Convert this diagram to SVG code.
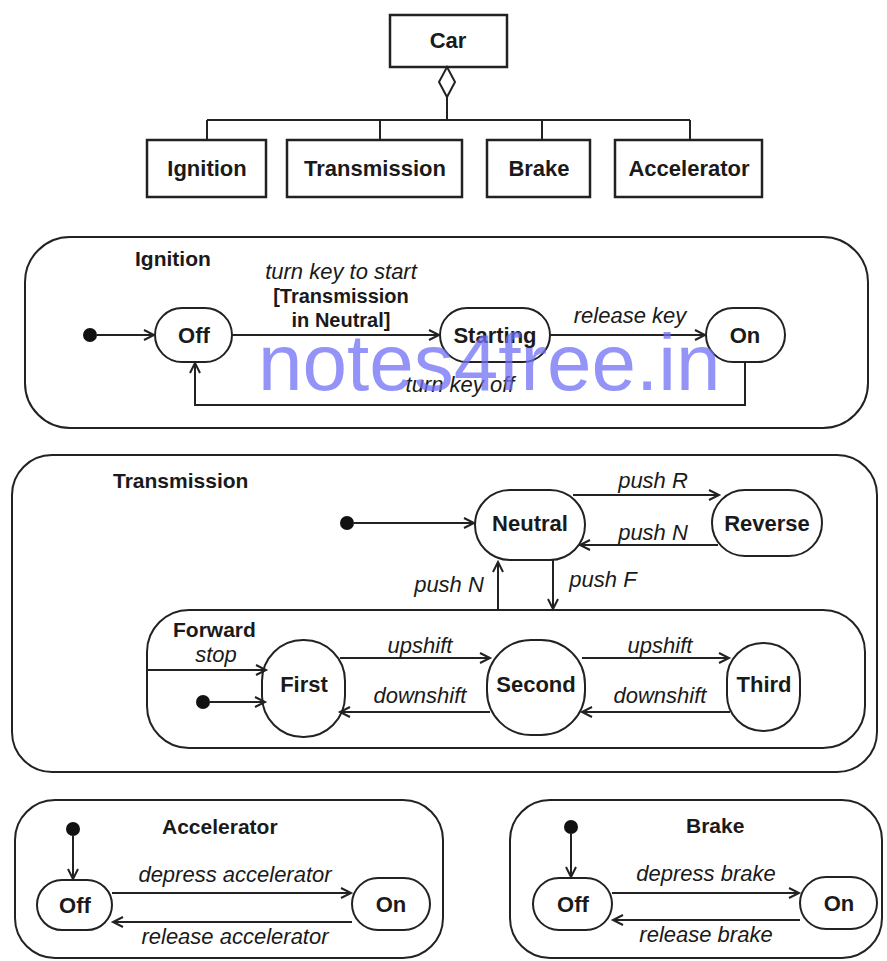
<svg xmlns="http://www.w3.org/2000/svg" width="887" height="961" viewBox="0 0 887 961">
<defs>
<marker id="arr" markerUnits="userSpaceOnUse" markerWidth="14" markerHeight="14" refX="11" refY="6" orient="auto">
<path d="M1,1 L11,6 L1,11" fill="none" stroke="#222" stroke-width="2"/>
</marker>
</defs>
<style>
.box{fill:#fff;stroke:#222;stroke-width:2.5}
.reg{fill:none;stroke:#222;stroke-width:2}
.st{fill:#fff;stroke:#222;stroke-width:2}
.ln{fill:none;stroke:#222;stroke-width:2}
.ar{fill:none;stroke:#222;stroke-width:2;marker-end:url(#arr)}
.dot{fill:#111}
.nm{font-family:"Liberation Sans",Arial,sans-serif;font-weight:bold;font-size:22px;fill:#1a1a1a;text-anchor:middle}
.gd{font-family:"Liberation Sans",Arial,sans-serif;font-weight:bold;font-size:20px;fill:#1a1a1a;text-anchor:middle}
.ttl{font-family:"Liberation Sans",Arial,sans-serif;font-weight:bold;font-size:21px;fill:#1a1a1a}
.lb{font-family:"Liberation Sans",Arial,sans-serif;font-style:italic;font-size:22px;fill:#1a1a1a;text-anchor:middle}
.wm{font-family:"Liberation Sans",Arial,sans-serif;font-size:80px;fill:#6f6ff5;fill-opacity:0.75}
</style>
<rect width="887" height="961" fill="#fff"/>

<!-- Class diagram -->
<g id="car"><rect class="box" x="390" y="15" width="117" height="52"/><text class="nm" x="448" y="48">Car</text></g>
<g id="ignition-class"><rect class="box" x="147" y="140" width="119" height="57"/><text class="nm" x="207" y="176">Ignition</text></g>
<g id="transmission-class"><rect class="box" x="287" y="140" width="175" height="57"/><text class="nm" x="375" y="176">Transmission</text></g>
<g id="brake-class"><rect class="box" x="487" y="140" width="103" height="57"/><text class="nm" x="539" y="176">Brake</text></g>
<g id="accelerator-class"><rect class="box" x="615" y="140" width="147" height="57"/><text class="nm" x="689" y="176">Accelerator</text></g>

<!-- Ignition state machine -->
<g id="ignition-region"><rect class="reg" x="25" y="237" width="843" height="191" rx="45"/><text class="ttl" x="135" y="266">Ignition</text></g>
<g id="ign-init"><circle class="dot" cx="90" cy="335" r="7"/></g>
<g id="ign-off"><rect class="st" x="155" y="308" width="77" height="54" rx="27"/><text class="nm" x="194" y="343">Off</text></g>
<g id="ign-starting"><rect class="st" x="440" y="308" width="110" height="54" rx="27"/><text class="nm" x="495" y="343">Starting</text></g>
<g id="ign-on"><rect class="st" x="706" y="308" width="79" height="54" rx="27"/><text class="nm" x="745" y="343">On</text></g>

<!-- Transmission state machine -->
<g id="transmission-region"><rect class="reg" x="12" y="455" width="865" height="317" rx="40"/><text class="ttl" x="113" y="488">Transmission</text></g>
<g id="tr-init"><circle class="dot" cx="347" cy="523" r="7"/></g>
<g id="neutral"><rect class="st" x="475" y="490" width="110" height="70" rx="35"/><text class="nm" x="530" y="531">Neutral</text></g>
<g id="reverse"><rect class="st" x="712" y="490" width="110" height="66" rx="33"/><text class="nm" x="767" y="531">Reverse</text></g>
<g id="forward-region"><rect class="reg" x="147" y="610" width="718" height="138" rx="42"/><text class="ttl" x="173" y="637">Forward</text></g>
<g id="fw-init"><circle class="dot" cx="203" cy="702" r="7"/></g>
<g id="first"><rect class="st" x="262" y="640" width="83" height="97" rx="41"/><text class="nm" x="304" y="692">First</text></g>
<g id="second"><rect class="st" x="487" y="640" width="98" height="95" rx="44"/><text class="nm" x="536" y="692">Second</text></g>
<g id="third"><rect class="st" x="727" y="643" width="73" height="88" rx="36"/><text class="nm" x="764" y="692">Third</text></g>

<!-- Accelerator -->
<g id="accelerator-region"><rect class="reg" x="15" y="800" width="428" height="158" rx="40"/><text class="ttl" x="162" y="834">Accelerator</text></g>
<g id="acc-init"><circle class="dot" cx="73" cy="829" r="7"/></g>
<g id="acc-off"><rect class="st" x="37" y="880" width="75" height="50" rx="25"/><text class="nm" x="75" y="913">Off</text></g>
<g id="acc-on"><rect class="st" x="352" y="878" width="78" height="52" rx="26"/><text class="nm" x="391" y="912">On</text></g>

<!-- Brake -->
<g id="brake-region"><rect class="reg" x="510" y="800" width="372" height="158" rx="40"/><text class="ttl" x="686" y="833">Brake</text></g>
<g id="brk-init"><circle class="dot" cx="571" cy="827" r="7"/></g>
<g id="brk-off"><rect class="st" x="533" y="878" width="79" height="52" rx="26"/><text class="nm" x="573" y="912">Off</text></g>
<g id="brk-on"><rect class="st" x="800" y="877" width="77" height="52" rx="26"/><text class="nm" x="839" y="911">On</text></g>

<!-- Connectors -->
<g id="connectors">
<path d="M447,67 L455,82 L447,97 L439,82 Z" fill="#fff" stroke="#222" stroke-width="2"/>
<path class="ln" d="M447,97 V120 M207,120 H690 M207,120 V140 M380,120 V140 M542,120 V140 M690,120 V140"/>

<path class="ar" d="M97,335 H154"/>
<path class="ar" d="M232,335 H439"/>
<path class="ar" d="M550,335 H705"/>
<path class="ar" d="M745,362 V405 H195 V363"/>

<path class="ar" d="M354,523 H474"/>
<path class="ar" d="M573,495 H719"/>
<path class="ar" d="M718,545 H580"/>
<path class="ar" d="M553,560 V609"/>
<path class="ar" d="M498,610 V562"/>
<path class="ar" d="M148,670 H266"/>
<path class="ar" d="M210,702 H265"/>
<path class="ar" d="M340,658 H490"/>
<path class="ar" d="M582,658 H729"/>
<path class="ar" d="M730,712 H582"/>
<path class="ar" d="M490,712 H340"/>

<path class="ar" d="M73,836 V879"/>
<path class="ar" d="M112,893 H351"/>
<path class="ar" d="M352,922 H113"/>
<path class="ar" d="M571,834 V877"/>
<path class="ar" d="M612,893 H799"/>
<path class="ar" d="M800,920 H613"/>
</g>

<!-- Transition labels -->
<g id="labels">
<text class="lb" x="341" y="279">turn key to start</text>
<text class="gd" x="341" y="303">[Transmission</text>
<text class="gd" x="341" y="327">in Neutral]</text>
<text class="lb" x="630" y="323">release key</text>
<text class="lb" x="460" y="392">turn key off</text>
<text class="lb" x="653" y="488">push R</text>
<text class="lb" x="653" y="540">push N</text>
<text class="lb" x="603" y="587">push F</text>
<text class="lb" x="449" y="592">push N</text>
<text class="lb" x="216" y="662">stop</text>
<text class="lb" x="420" y="653">upshift</text>
<text class="lb" x="660" y="653">upshift</text>
<text class="lb" x="420" y="703">downshift</text>
<text class="lb" x="660" y="703">downshift</text>
<text class="lb" x="235" y="882">depress accelerator</text>
<text class="lb" x="235" y="944">release accelerator</text>
<text class="lb" x="706" y="881">depress brake</text>
<text class="lb" x="706" y="942">release brake</text>
</g>

<text class="wm" x="258" y="390">notes4free.in</text>
</svg>
